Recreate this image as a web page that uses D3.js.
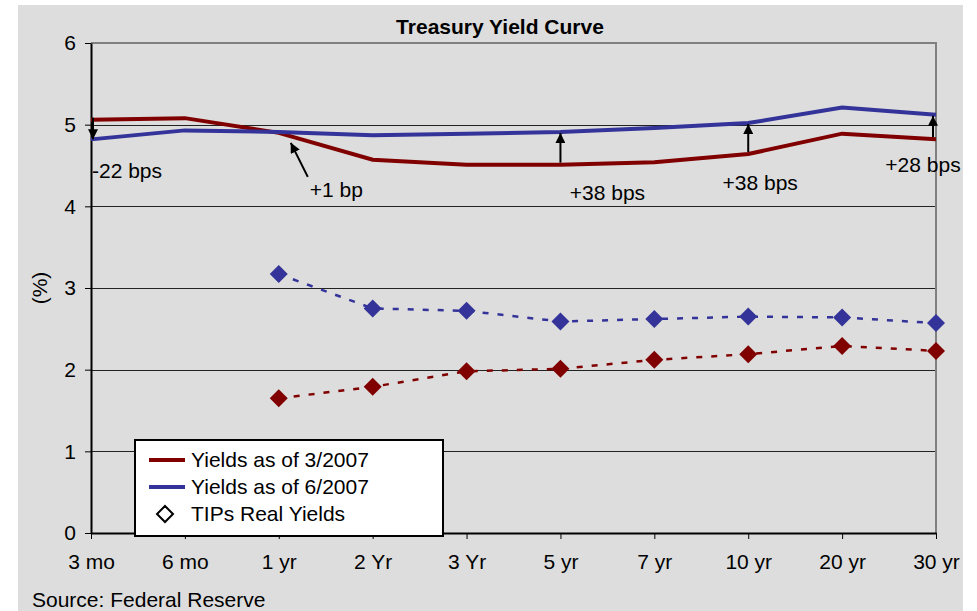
<!DOCTYPE html>
<html>
<head>
<meta charset="utf-8">
<script src="https://cdn.jsdelivr.net/npm/d3@7/dist/d3.min.js"></script>
<style>
  body { margin: 0; background: #fff; }
  text { font-family: "Liberation Sans", Arial, sans-serif; fill: #000; }
</style>
</head>
<body>
<svg id="chart" width="977" height="611"></svg>
<script>
// data
var maturities = ["3 mo", "6 mo", "1 yr", "2 Yr", "3 Yr", "5 yr", "7 yr", "10 yr", "20 yr", "30 yr"];
var yieldsMar = [5.06, 5.08, 4.90, 4.57, 4.51, 4.51, 4.54, 4.64, 4.89, 4.82];
var yieldsJun = [4.82, 4.93, 4.91, 4.87, 4.89, 4.91, 4.96, 5.02, 5.21, 5.12];
var tipsJun = [null, null, 3.17, 2.75, 2.72, 2.59, 2.62, 2.65, 2.64, 2.57];
var tipsMar = [null, null, 1.65, 1.79, 1.98, 2.01, 2.12, 2.19, 2.29, 2.23];
var yTicks = [0, 1, 2, 3, 4, 5, 6];
// spread annotations: maturity, label
var spreads = [
  { m: "3 mo", label: "-22 bps" },
  { m: "5 yr", label: "+38 bps" },
  { m: "10 yr", label: "+38 bps" },
  { m: "30 yr", label: "+28 bps" }
];

var red = "#800000", blue = "#333399";
var fs = "21px";

var svg = d3.select("#chart");
var margin = { top: 43, right: 41, bottom: 78, left: 91 };
var width = 977 - margin.left - margin.right;
var height = 611 - margin.top - margin.bottom;

svg.append("defs").append("marker")
  .attr("id", "arrow")
  .attr("viewBox", "0 0 10 10")
  .attr("refX", 10).attr("refY", 5)
  .attr("markerWidth", 5).attr("markerHeight", 5)
  .attr("markerUnits", "strokeWidth")
  .attr("orient", "auto")
  .append("path")
  .attr("d", "M0,0L10,5L0,10z")
  .attr("fill", "#000");

svg.append("rect")
  .attr("x", 18).attr("y", 5)
  .attr("width", 945).attr("height", 606)
  .attr("fill", "#dddddd");

var g = svg.append("g")
  .attr("transform", "translate(" + margin.left + "," + margin.top + ")");

var x = d3.scalePoint().domain(maturities).range([0, width]);
var y = d3.scaleLinear().domain([0, 6]).range([height, 0]);

// gridlines
g.selectAll(".grid")
  .data(yTicks.filter(function (d) { return d > 0 && d < 6; }))
  .enter().append("line")
  .attr("x1", 0).attr("x2", width)
  .attr("y1", function (d) { return Math.round(y(d)) + 0.5; })
  .attr("y2", function (d) { return Math.round(y(d)) + 0.5; })
  .attr("stroke", "#222").attr("stroke-width", 1);

// frame top/right
g.append("path")
  .attr("d", "M0," + y(6) + "H" + width + "V" + height)
  .attr("fill", "none").attr("stroke", "#808080").attr("stroke-width", 2);

// axes
var yAxis = d3.axisLeft(y).tickValues(yTicks).tickFormat(d3.format("d"))
  .tickSize(6).tickSizeOuter(0).tickPadding(9);
var gy = g.append("g").call(yAxis);
gy.attr("font-size", null).attr("font-family", null);
gy.select(".domain").attr("stroke", "#000").attr("stroke-width", 2);
gy.selectAll(".tick line").attr("stroke", "#000");
gy.selectAll("text").style("font-size", fs).attr("fill", "#000");

var xAxis = d3.axisBottom(x).tickSize(6).tickSizeOuter(0).tickPadding(15);
var gx = g.append("g").attr("transform", "translate(0," + height + ")").call(xAxis);
gx.attr("font-size", null).attr("font-family", null);
gx.select(".domain").attr("stroke", "#000").attr("stroke-width", 2);
gx.selectAll(".tick line").attr("stroke", "#000");
gx.selectAll("text").style("font-size", fs).attr("fill", "#000");

// main yield lines
var line = d3.line()
  .defined(function (d) { return d[1] != null; })
  .x(function (d) { return x(d[0]); })
  .y(function (d) { return y(d[1]); });

function pairs(vals) {
  return maturities.map(function (m, i) { return [m, vals[i]]; });
}

g.append("path").datum(pairs(yieldsMar)).attr("d", line)
  .attr("fill", "none").attr("stroke", red).attr("stroke-width", 4);
g.append("path").datum(pairs(yieldsJun)).attr("d", line)
  .attr("fill", "none").attr("stroke", blue).attr("stroke-width", 4);

// TIPS dashed lines + diamonds
[[tipsJun, blue], [tipsMar, red]].forEach(function (s) {
  var pts = pairs(s[0]).filter(function (d) { return d[1] != null; });
  g.append("path").datum(pts).attr("d", line)
    .attr("fill", "none").attr("stroke", s[1]).attr("stroke-width", 2.5)
    .attr("stroke-dasharray", "6,9");
  g.selectAll(null).data(pts).enter().append("path")
    .attr("d", "M0,-9L9,0L0,9L-9,0Z")
    .attr("transform", function (d) { return "translate(" + x(d[0]) + "," + y(d[1]) + ")"; })
    .attr("fill", s[1]);
});

// spread arrows
spreads.forEach(function (s) {
  var i = maturities.indexOf(s.m);
  var xx = x(s.m) + (i === 0 ? 2 : (i === maturities.length - 1 ? -3 : 0));
  g.append("line")
    .attr("x1", xx).attr("x2", xx)
    .attr("y1", y(yieldsMar[i]) - 2)
    .attr("y2", y(yieldsJun[i]) + (yieldsMar[i] > yieldsJun[i] ? 0 : 1))
    .attr("stroke", "#000").attr("stroke-width", 2)
    .attr("marker-end", "url(#arrow)");
});
// +1 bp arrow near the 1 yr crossing
g.append("line")
  .attr("x1", x("1 yr") + 29).attr("y1", y(4.9) + 44)
  .attr("x2", x("1 yr") + 12).attr("y2", y(4.9) + 10)
  .attr("stroke", "#000").attr("stroke-width", 2)
  .attr("marker-end", "url(#arrow)");

var labelPos = [
  { m: "3 mo", dx: 1, v: 4.35, anchor: "start" },
  { m: "5 yr", dx: 47, v: 4.08, anchor: "middle" },
  { m: "10 yr", dx: 12, v: 4.2, anchor: "middle" },
  { m: "30 yr", dx: -13, v: 4.42, anchor: "middle" }
];
labelPos.forEach(function (p, k) {
  g.append("text")
    .attr("x", x(p.m) + p.dx).attr("y", y(p.v))
    .attr("text-anchor", p.anchor)
    .style("font-size", fs)
    .text(spreads[k].label);
});
g.append("text")
  .attr("x", x("1 yr") + 31).attr("y", y(4.9) + 64)
  .style("font-size", fs)
  .text("+1 bp");

// title
svg.append("text")
  .attr("x", 500).attr("y", 34)
  .attr("text-anchor", "middle")
  .style("font-size", "21px").style("font-weight", "bold")
  .text("Treasury Yield Curve");

// y label
svg.append("text")
  .attr("transform", "translate(47," + (margin.top + y(3)) + ") rotate(-90)")
  .attr("text-anchor", "middle")
  .style("font-size", fs)
  .text("(%)");

// source
svg.append("text")
  .attr("x", 32).attr("y", 607)
  .style("font-size", fs)
  .text("Source: Federal Reserve");

// legend
var legend = svg.append("g").attr("transform", "translate(135,440)");
legend.append("rect")
  .attr("width", 308).attr("height", 96)
  .attr("fill", "#fff").attr("stroke", "#000").attr("stroke-width", 2);
var legendItems = [
  { label: "Yields as of 3/2007", color: red, type: "line" },
  { label: "Yields as of 6/2007", color: blue, type: "line" },
  { label: "TIPs Real Yields", color: "#000", type: "diamond" }
];
legendItems.forEach(function (d, i) {
  var ly = 20 + i * 27;
  if (d.type === "line") {
    legend.append("line")
      .attr("x1", 14).attr("x2", 50).attr("y1", ly).attr("y2", ly)
      .attr("stroke", d.color).attr("stroke-width", 4);
  } else {
    legend.append("path")
      .attr("d", "M0,-8L8,0L0,8L-8,0Z")
      .attr("transform", "translate(30," + ly + ")")
      .attr("fill", "#fff").attr("stroke", "#000").attr("stroke-width", 2);
  }
  legend.append("text")
    .attr("x", 56).attr("y", ly + 7)
    .style("font-size", fs)
    .text(d.label);
});
</script>
</body>
</html>
